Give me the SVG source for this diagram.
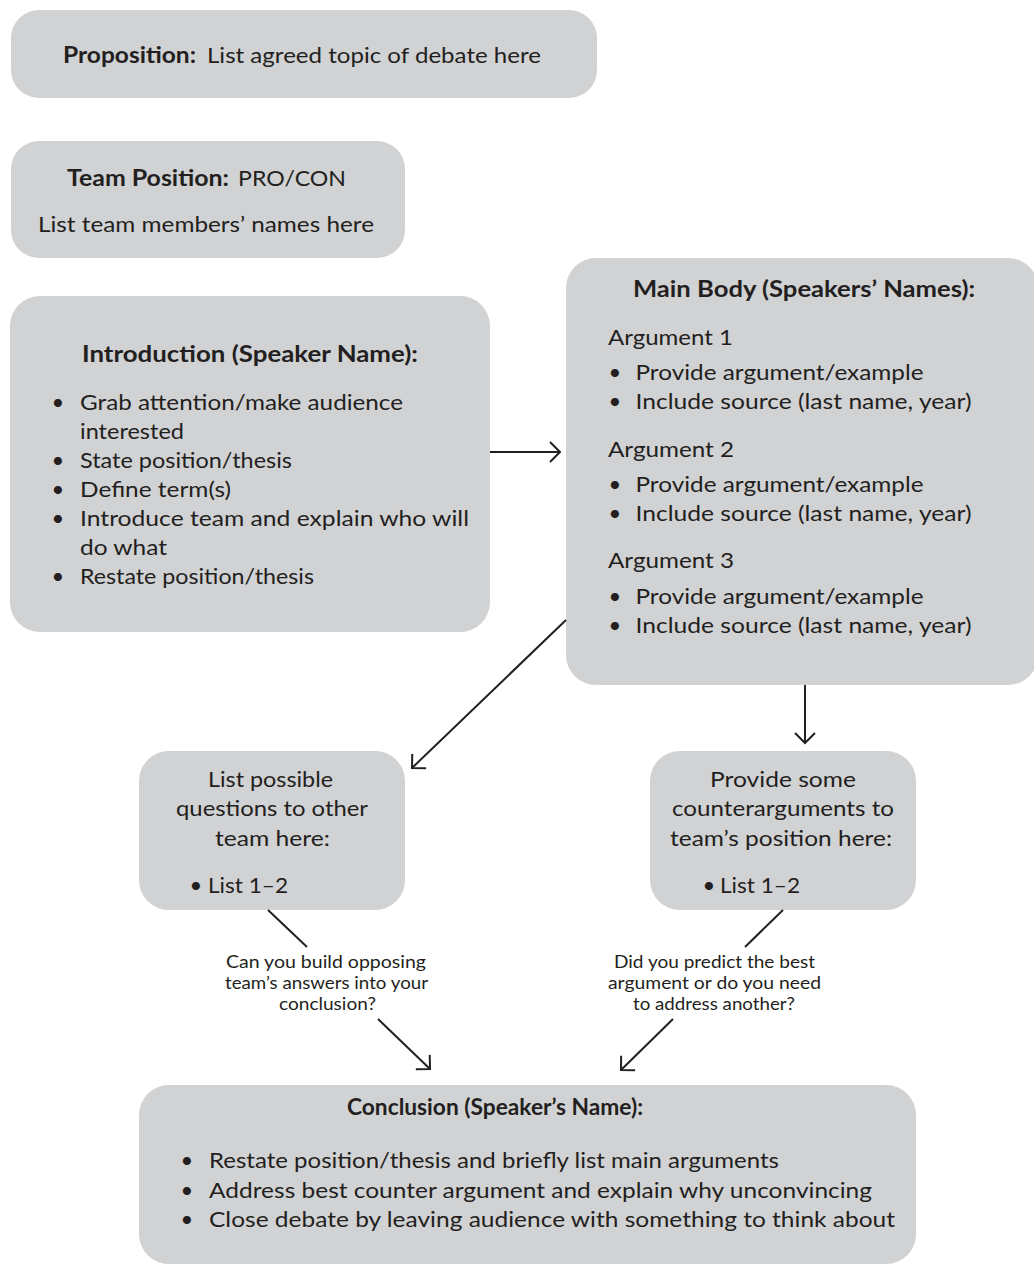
<svg xmlns="http://www.w3.org/2000/svg" width="1034" height="1266" viewBox="0 0 1034 1266">
<defs>
<style>
.box{fill:#d1d2d4;}
text{font-family:Lato,"Liberation Sans",sans-serif;fill:#231f20;}
.t{font-size:22px;}
.b{font-size:22px;font-weight:bold;}
.s{font-size:17.5px;}
.ln{stroke:#231f20;stroke-width:2;fill:none;}
</style>
<marker id="ah" markerUnits="userSpaceOnUse" markerWidth="26" markerHeight="26" viewBox="-13 -13 26 26" refX="0" refY="0" orient="auto">
<path d="M-10,-10 L0,0 L-10,10" fill="none" stroke="#231f20" stroke-width="2"/>
</marker>
</defs>
<rect width="1034" height="1266" fill="#ffffff"/>

<g id="proposition">
<rect class="box" x="11" y="10" width="586" height="88" rx="28"/>
<text class="b" x="63" y="63" textLength="133" lengthAdjust="spacingAndGlyphs">Proposition:</text>
<text class="t" x="207" y="63" textLength="334" lengthAdjust="spacingAndGlyphs">List agreed topic of debate here</text>
</g>

<g id="team-position">
<rect class="box" x="11" y="141" width="394" height="117" rx="28"/>
<text class="b" x="67" y="186" textLength="162" lengthAdjust="spacingAndGlyphs">Team Position:</text>
<text class="t" x="238" y="186" textLength="108" lengthAdjust="spacingAndGlyphs">PRO/CON</text>
<text class="t" x="38" y="232" textLength="336" lengthAdjust="spacingAndGlyphs">List team members’ names here</text>
</g>

<g id="introduction">
<rect class="box" x="10" y="296" width="480" height="336" rx="30"/>
<text class="b" x="82" y="362" textLength="336" lengthAdjust="spacingAndGlyphs">Introduction (Speaker Name):</text>
<text class="t" x="58" y="410" text-anchor="middle">•</text>
<text class="t" x="80" y="410" textLength="323" lengthAdjust="spacingAndGlyphs">Grab attention/make audience</text>
<text class="t" x="80" y="439" textLength="104" lengthAdjust="spacingAndGlyphs">interested</text>
<text class="t" x="58" y="468" text-anchor="middle">•</text>
<text class="t" x="80" y="468" textLength="212" lengthAdjust="spacingAndGlyphs">State position/thesis</text>
<text class="t" x="58" y="497" text-anchor="middle">•</text>
<text class="t" x="80" y="497" textLength="151" lengthAdjust="spacingAndGlyphs">Define term(s)</text>
<text class="t" x="58" y="526" text-anchor="middle">•</text>
<text class="t" x="80" y="526" textLength="389" lengthAdjust="spacingAndGlyphs">Introduce team and explain who will</text>
<text class="t" x="80" y="555" textLength="87" lengthAdjust="spacingAndGlyphs">do what</text>
<text class="t" x="58" y="584" text-anchor="middle">•</text>
<text class="t" x="80" y="584" textLength="234" lengthAdjust="spacingAndGlyphs">Restate position/thesis</text>
</g>

<g id="main-body">
<rect class="box" x="566" y="258" width="472" height="427" rx="30"/>
<text class="b" x="633" y="297" textLength="342" lengthAdjust="spacingAndGlyphs">Main Body (Speakers’ Names):</text>
<text class="t" x="608" y="345" textLength="125" lengthAdjust="spacingAndGlyphs">Argument 1</text>
<text class="t" x="615" y="380" text-anchor="middle">•</text>
<text class="t" x="635.5" y="380" textLength="288" lengthAdjust="spacingAndGlyphs">Provide argument/example</text>
<text class="t" x="615" y="409" text-anchor="middle">•</text>
<text class="t" x="635.5" y="409" textLength="336" lengthAdjust="spacingAndGlyphs">Include source (last name, year)</text>
<text class="t" x="608" y="457" textLength="126" lengthAdjust="spacingAndGlyphs">Argument 2</text>
<text class="t" x="615" y="492" text-anchor="middle">•</text>
<text class="t" x="635.5" y="492" textLength="288" lengthAdjust="spacingAndGlyphs">Provide argument/example</text>
<text class="t" x="615" y="521" text-anchor="middle">•</text>
<text class="t" x="635.5" y="521" textLength="336" lengthAdjust="spacingAndGlyphs">Include source (last name, year)</text>
<text class="t" x="608" y="568" textLength="126" lengthAdjust="spacingAndGlyphs">Argument 3</text>
<text class="t" x="615" y="604" text-anchor="middle">•</text>
<text class="t" x="635.5" y="604" textLength="288" lengthAdjust="spacingAndGlyphs">Provide argument/example</text>
<text class="t" x="615" y="633" text-anchor="middle">•</text>
<text class="t" x="635.5" y="633" textLength="336" lengthAdjust="spacingAndGlyphs">Include source (last name, year)</text>
</g>

<g id="questions">
<rect class="box" x="139" y="751" width="266" height="159" rx="30"/>
<text class="t" x="208" y="787" textLength="125" lengthAdjust="spacingAndGlyphs">List possible</text>
<text class="t" x="176" y="816" textLength="192" lengthAdjust="spacingAndGlyphs">questions to other</text>
<text class="t" x="215" y="846" textLength="115" lengthAdjust="spacingAndGlyphs">team here:</text>
<text class="t" x="196" y="893" text-anchor="middle">•</text>
<text class="t" x="208" y="893" textLength="80" lengthAdjust="spacingAndGlyphs">List 1–2</text>
</g>

<g id="counterarguments">
<rect class="box" x="650" y="751" width="266" height="159" rx="30"/>
<text class="t" x="783" y="787" text-anchor="middle" textLength="146" lengthAdjust="spacingAndGlyphs">Provide some</text>
<text class="t" x="783" y="816" text-anchor="middle" textLength="222" lengthAdjust="spacingAndGlyphs">counterarguments to</text>
<text class="t" x="781" y="846" text-anchor="middle" textLength="222" lengthAdjust="spacingAndGlyphs">team’s position here:</text>
<text class="t" x="709" y="893" text-anchor="middle">•</text>
<text class="t" x="720" y="893" textLength="80" lengthAdjust="spacingAndGlyphs">List 1–2</text>
</g>

<g id="conclusion">
<rect class="box" x="139" y="1085" width="777" height="179" rx="30"/>
<text class="b" x="347" y="1115" textLength="296" lengthAdjust="spacingAndGlyphs">Conclusion (Speaker’s Name):</text>
<text class="t" x="187" y="1168" text-anchor="middle">•</text>
<text class="t" x="209" y="1168" textLength="570" lengthAdjust="spacingAndGlyphs">Restate position/thesis and briefly list main arguments</text>
<text class="t" x="187" y="1198" text-anchor="middle">•</text>
<text class="t" x="209" y="1198" textLength="663" lengthAdjust="spacingAndGlyphs">Address best counter argument and explain why unconvincing</text>
<text class="t" x="187" y="1227" text-anchor="middle">•</text>
<text class="t" x="209" y="1227" textLength="686" lengthAdjust="spacingAndGlyphs">Close debate by leaving audience with something to think about</text>
</g>

<g id="connectors">
<line class="ln" x1="490" y1="452" x2="560" y2="452" marker-end="url(#ah)"/>
<line class="ln" x1="566" y1="620" x2="412" y2="768" marker-end="url(#ah)"/>
<line class="ln" x1="805" y1="685" x2="805" y2="743" marker-end="url(#ah)"/>
<line class="ln" x1="268" y1="910" x2="307" y2="947"/>
<line class="ln" x1="378" y1="1019" x2="430" y2="1069" marker-end="url(#ah)"/>
<line class="ln" x1="783" y1="910" x2="745" y2="947"/>
<line class="ln" x1="673" y1="1019" x2="621" y2="1070" marker-end="url(#ah)"/>
<text class="s" x="226" y="968" textLength="200" lengthAdjust="spacingAndGlyphs">Can you build opposing</text>
<text class="s" x="225" y="989" textLength="203" lengthAdjust="spacingAndGlyphs">team’s answers into your</text>
<text class="s" x="279" y="1010" textLength="97" lengthAdjust="spacingAndGlyphs">conclusion?</text>
<text class="s" x="614" y="968" textLength="201" lengthAdjust="spacingAndGlyphs">Did you predict the best</text>
<text class="s" x="608" y="989" textLength="213" lengthAdjust="spacingAndGlyphs">argument or do you need</text>
<text class="s" x="633" y="1010" textLength="162" lengthAdjust="spacingAndGlyphs">to address another?</text>
</g>
</svg>
